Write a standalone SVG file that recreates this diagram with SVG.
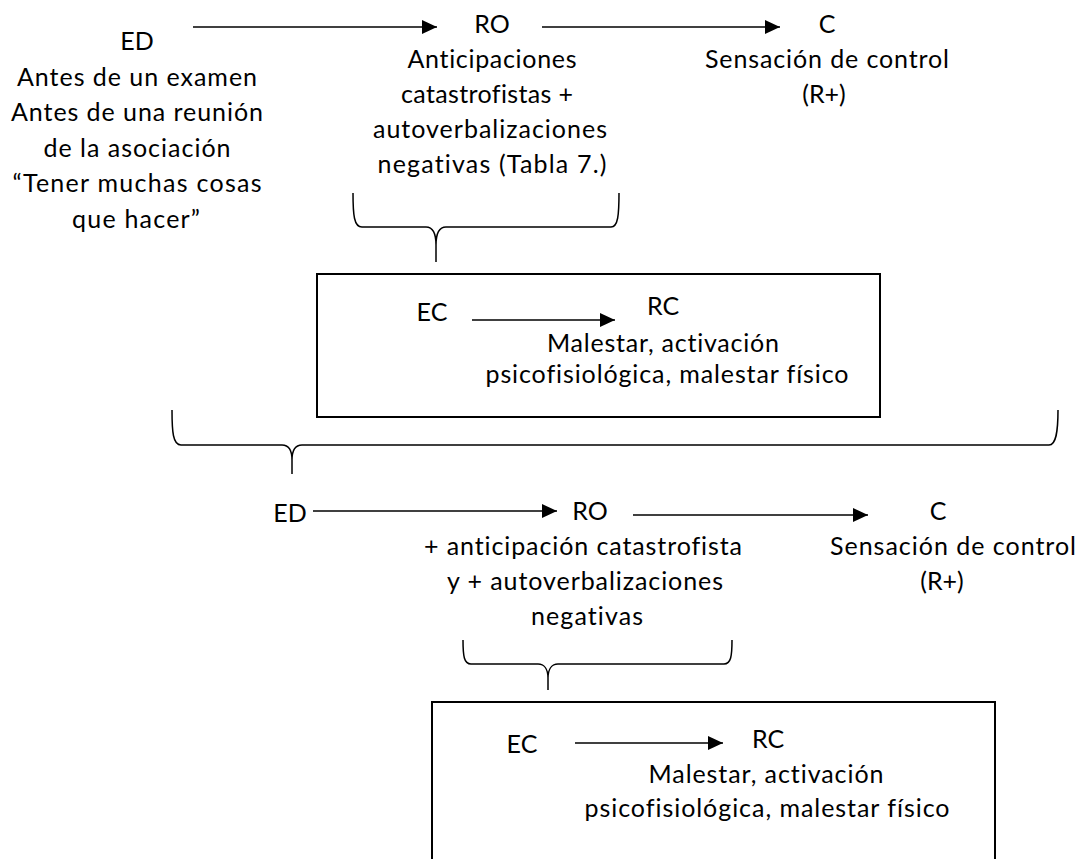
<svg xmlns="http://www.w3.org/2000/svg" width="1081" height="859" viewBox="0 0 1081 859">
<style>
text{font-family:Lato,"Liberation Sans",sans-serif;font-size:25px;fill:#000;text-anchor:middle;font-variant-ligatures:none}
.box{fill:none;stroke:#000;stroke-width:2}
.brace{fill:none;stroke:#000;stroke-width:1.5}
.arr{fill:none;stroke:#000;stroke-width:1.5;marker-end:url(#ah)}
</style>
<defs>
<marker id="ah" markerUnits="userSpaceOnUse" markerWidth="16" markerHeight="14" refX="15" refY="7" orient="auto">
<path d="M0,0 L15,7 L0,14 Z" fill="#000"/>
</marker>
</defs>
<rect width="1081" height="859" fill="#fff"/>

<g id="connectors">
<line class="arr" x1="193" y1="27" x2="437" y2="27"/>
<line class="arr" x1="542" y1="27" x2="780" y2="27"/>
<line class="arr" x1="472" y1="320" x2="615" y2="320"/>
<line class="arr" x1="313" y1="511" x2="557" y2="511"/>
<line class="arr" x1="633" y1="515" x2="868" y2="515"/>
<line class="arr" x1="575" y1="743" x2="723" y2="743"/>
</g>

<g id="ed1">
<text x="137" y="50">ED</text>
<text x="137" y="86" textLength="240" lengthAdjust="spacing">Antes de un examen</text>
<text x="137" y="121" textLength="252" lengthAdjust="spacing">Antes de una reunión</text>
<text x="137" y="157" textLength="187" lengthAdjust="spacing">de la asociación</text>
<text x="137" y="192" textLength="249" lengthAdjust="spacing">“Tener muchas cosas</text>
<text x="136" y="228" textLength="128" lengthAdjust="spacing">que hacer”</text>
</g>

<g id="ro1">
<text x="492" y="33">RO</text>
<text x="492" y="68" textLength="169" lengthAdjust="spacing">Anticipaciones</text>
<text x="487" y="103" textLength="172" lengthAdjust="spacing">catastrofistas +</text>
<text x="490" y="138" textLength="234" lengthAdjust="spacing">autoverbalizaciones</text>
<text x="492" y="173" textLength="229" lengthAdjust="spacing">negativas (Tabla 7.)</text>
</g>

<g id="c1">
<text x="827" y="33">C</text>
<text x="827" y="68" textLength="244" lengthAdjust="spacing">Sensación de control</text>
<text x="824" y="103">(R+)</text>
</g>

<g id="brace1">
<path class="brace" d="M353,193 C353,215 354,227 362,227 L426,227 C432,227 436,232 436,245 L436,262 M436,245 C436,232 440,227 446,227 L611,227 C618,227 619,215 619,193"/>
</g>

<g id="box1">
<rect class="box" x="317" y="274" width="563" height="143"/>
<text x="432" y="321">EC</text>
<text x="663" y="315">RC</text>
<text x="663" y="352" textLength="232" lengthAdjust="spacing">Malestar, activación</text>
<text x="667" y="383" textLength="363" lengthAdjust="spacing">psicofisiológica, malestar físico</text>
</g>

<g id="brace2">
<path class="brace" d="M172,410 C172,432 173,445 181,445 L282,445 C288,445 292,450 292,460 L292,474 M292,460 C292,450 296,445 302,445 L1049,445 C1056,445 1058,432 1058,410"/>
</g>

<g id="ed2">
<text x="290" y="522">ED</text>
</g>

<g id="ro2">
<text x="590" y="520">RO</text>
<text x="583" y="555" textLength="318" lengthAdjust="spacing">+ anticipación catastrofista</text>
<text x="585" y="590" textLength="276" lengthAdjust="spacing">y + autoverbalizaciones</text>
<text x="587" y="625" textLength="112" lengthAdjust="spacing">negativas</text>
</g>

<g id="c2">
<text x="938" y="520">C</text>
<text x="953" y="555" textLength="246" lengthAdjust="spacing">Sensación de control</text>
<text x="942" y="590">(R+)</text>
</g>

<g id="brace3">
<path class="brace" d="M463,640 C463,656 464,664 471,664 L538,664 C544,664 548,669 548,678 L548,690 M548,678 C548,669 552,664 558,664 L724,664 C731,664 732,656 732,640"/>
</g>

<g id="box2">
<path class="box" d="M432,862 L432,702 L995,702 L995,862"/>
<text x="522" y="753">EC</text>
<text x="768" y="748">RC</text>
<text x="766" y="783" textLength="235" lengthAdjust="spacing">Malestar, activación</text>
<text x="767" y="817" textLength="365" lengthAdjust="spacing">psicofisiológica, malestar físico</text>
</g>
</svg>
